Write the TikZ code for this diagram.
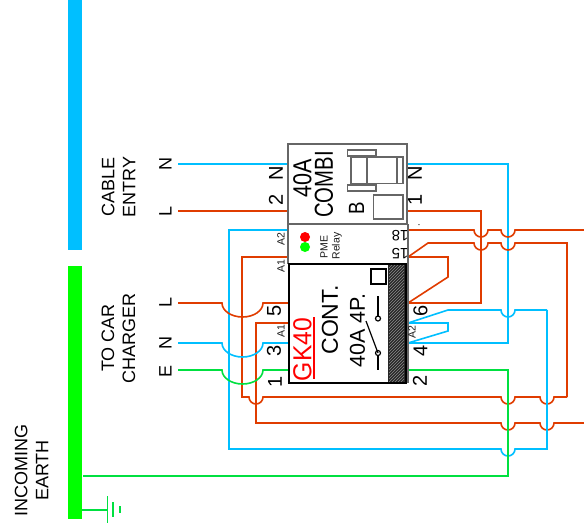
\documentclass[tikz,border=0pt]{standalone}
\usepackage{fontspec}
\setmainfont{Liberation Sans}
\usetikzlibrary{positioning, patterns}
\definecolor{wirered}{RGB}{224,60,0}
\definecolor{wireblue}{RGB}{0,191,255}
\definecolor{wiregreen}{RGB}{0,224,64}
\tikzset{
  redw/.style={draw=wirered, line width=1.6pt},
  bluew/.style={draw=wireblue, line width=1.6pt},
  greenw/.style={draw=wiregreen, line width=1.6pt},
  greybox/.style={draw=black!60, line width=1.6pt},
  txt/.style={rotate=90, inner sep=0pt, font=\fontsize{18}{21}\selectfont, align=center},
  term/.style={rotate=90, inner sep=0pt, font=\fontsize{20}{22}\selectfont},
  tiny/.style={rotate=90, inner sep=0pt, font=\fontsize{10.5}{12}\selectfont, text=black!90},
  numup/.style={rotate=180, inner sep=0pt, font=\fontsize{15}{16}\selectfont},
}
\newcommand{\hop}[2]{-- (#1-7,#2) arc[start angle=180, end angle=0, radius=7]}
\newcommand{\bighop}[1]{-- (222,#1) arc[start angle=180, end angle=0, x radius=20.5, y radius=14]}
\begin{document}
\begin{tikzpicture}[x=1pt, y=-1pt]
  \useasboundingbox (0,0) rectangle (584,531);
  % bars
  \fill[fill=wireblue] (68,0) rectangle (82,250);
  \fill[fill=green] (68,266) rectangle (82,519);
  % terminals
  \coordinate (cN) at (288,164);
  \coordinate (cL) at (288,211);
  \coordinate (cNo) at (408,164);
  \coordinate (cLo) at (408,211);
  \coordinate (rA2) at (288,230);
  \coordinate (rA1) at (288,257);
  \coordinate (r18) at (408,230);
  \coordinate (r15) at (408,257);
  \coordinate (k5) at (288,303);
  \coordinate (kA1) at (288,323);
  \coordinate (k3) at (288,343);
  \coordinate (k1) at (288,370);
  \coordinate (k6) at (408,303);
  \coordinate (kA2) at (408,323);
  \coordinate (k4) at (408,343);
  \coordinate (k2) at (408,370);
  \coordinate (lN) at (178,164);
  \coordinate (lL) at (178,211);
  \coordinate (tL) at (178,303);
  \coordinate (tN) at (178,343);
  \coordinate (tE) at (178,370);
  \coordinate (busE) at (83,476);
  \coordinate (busG) at (82,510);
  % wires
  \draw[bluew] (lN) -- (cN);
  \draw[redw] (lL) -- (cL);
  \draw[bluew] (cNo) -- (508,164) -- (508,343) -- (k4);
  \draw[redw] (cLo) -- (481,211) -- (481,303) -- (k6);
  \draw[redw] (r18) \hop{481}{230} \hop{508}{230} -- (584,230);
  \draw[redw] (r15) -- (428,243) \hop{481}{243} \hop{508}{243} -- (567,243) -- (567,397);
  \draw[redw] (rA1) -- (242,257) -- (242,397) \hop{256}{397} \hop{508}{397} \hop{547}{397} -- (567,397);
  \draw[redw] (kA1) -- (256,323) -- (256,423) \hop{508}{423} \hop{547}{423} -- (584,423);
  \draw[bluew] (rA2) -- (229,230) -- (229,449) \hop{508}{449} -- (547,449) -- (547,310);
  \draw[bluew] (kA2) -- (448,310) \hop{508}{310} -- (547,310);
  \draw[bluew] (kA2) -- (448,323) -- (448,331) -- (k4);
  \draw[redw] (r15) -- (448,257) -- (448,277) -- (k6);
  \draw[redw] (tL) \bighop{303} -- (k5);
  \draw[bluew] (tN) \bighop{343} -- (k3);
  \draw[greenw] (tE) \bighop{370} -- (k1);
  \draw[greenw] (k2) -- (508,370) -- (508,476) -- (busE);
  \draw[greenw] (busG) -- (107.5,510);
  \draw[greenw] (107.5,496) -- (107.5,523);
  \draw[greenw] (113,502) -- (113,517);
  \draw[greenw, line width=2pt] (120,506) -- (120,513);
  % boxes
  \node[greybox, minimum width=119pt, minimum height=80pt, inner sep=0pt, outer sep=0pt] (combi) at (347.5,184) {};
  \node[greybox, minimum width=120pt, minimum height=39pt, inner sep=0pt, outer sep=0pt] (relay) at (348,244) {};
  \fill[fill=black!85] (388,264) rectangle (405,383);
  \fill[pattern=north east lines, pattern color=black!45] (389,265) rectangle (404,381);
  \draw[draw=black!60, line width=1.2pt] (408,264) -- (408,383);
  \node[draw=black, line width=2pt, minimum width=117pt, minimum height=119pt, inner sep=0pt, outer sep=0pt] (cont) at (347.5,323.5) {};
  % combi symbol
  \draw[greybox] (351,157) rectangle (403,183.5);
  \draw[greybox] (367,157) -- (367,183.5);
  \draw[greybox] (397,157) -- (397,183.5);
  \draw[greybox] (347.5,150) rectangle (376,156);
  \draw[greybox] (347.5,185) rectangle (376,191);
  \draw[greybox] (373.5,195) rectangle (403,219);
  % relay lamps
  \fill[fill=red] (305,237) circle (5);
  \fill[fill=green] (305,247) circle (5);
  % contactor symbol
  \draw[line width=2.4pt] (371,269) rectangle (386,284);
  \draw[line width=1.2pt] (378,296) -- (378,316);
  \draw[line width=1.2pt] (378,318.5) circle (2.5);
  \draw[line width=1.2pt] (378,353) circle (2.5);
  \draw[line width=1.2pt] (378,355.5) -- (378,370);
  \draw[line width=1.2pt] (378,353) -- (366,321);
  \draw[draw=red, line width=1.2pt] (314,317) -- (314,379);
  % labels
  \node[txt] (cable) at (118.5,187) {CABLE\\ENTRY};
  \node[txt] (tocar) at (118.5,338) {TO CAR\\CHARGER};
  \node[txt] (earth) at (31.5,470.5) {INCOMING\\EARTH};
  \node[txt] (lbN) at (165.5,164) {N};
  \node[txt] (lbL) at (165.5,211) {L};
  \node[txt] (lbtL) at (165.5,302) {L};
  \node[txt] (lbtN) at (165.5,343) {N};
  \node[txt] (lbtE) at (165.5,371) {E};
  \node[term] (lN2) at (276,173.5) {N};
  \node[term] (l2) at (276,200) {2};
  \node[term] (rN) at (415,173.5) {N};
  \node[term] (r1) at (415,200) {1};
  \node[term] (c5) at (274,311) {5};
  \node[term] (c3) at (274,351) {3};
  \node[term] (c1) at (275,382) {1};
  \node[term] (c6) at (420.5,311) {6};
  \node[term] (c4) at (420.5,350.5) {4};
  \node[term] (c2) at (420,381) {2};
  \node[tiny] (a2) at (281,239) {A2};
  \node[tiny] (a1) at (281,266) {A1};
  \node[tiny] (a1b) at (281,331) {A1};
  \node[tiny] (a2b) at (412,332) {A2};
  \node[tiny] (pme) at (324,247) {PME};
  \node[tiny] (rel) at (337,246) {Relay};
  \node[numup] (n18) at (400,235.5) {18};
  \node[numup] (n15) at (400,253.5) {15};
  \node[rotate=90, inner sep=0pt, font=\fontsize{26}{28}\selectfont, xscale=.83] (a40) at (302.5,178) {40A};
  \node[rotate=90, inner sep=0pt, font=\fontsize{26}{28}\selectfont, xscale=.78] (comb) at (324,184.5) {COMBI};
  \node[rotate=90, inner sep=0pt, font=\fontsize{22}{24}\selectfont, xscale=.85] (b) at (356.5,208) {B};
  \node[rotate=90, inner sep=0pt, font=\fontsize{26}{28}\selectfont, text=red, xscale=.95] (gk) at (302.5,349.5) {GK40};
  \node[rotate=90, inner sep=0pt, font=\fontsize{23}{24}\selectfont] (cn) at (330,320) {CONT.};
  \node[rotate=90, inner sep=0pt, font=\fontsize{21.5}{24}\selectfont] (cn2) at (357.5,330.5) {40A 4P.};
  \node[rotate=90, inner sep=0pt, font=\fontsize{10}{12}\selectfont] (dot) at (419,225) {.};
\end{tikzpicture}
\end{document}
